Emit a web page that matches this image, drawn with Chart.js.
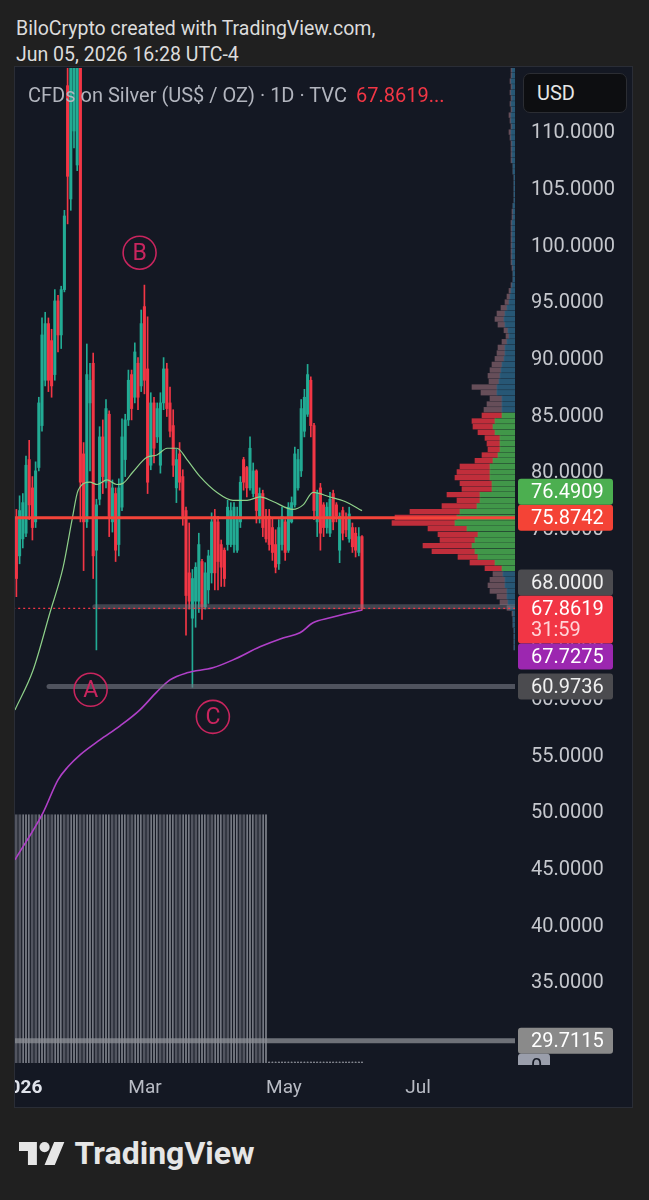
<!DOCTYPE html>
<html>
<head>
<meta charset="utf-8">
<script src="https://cdn.jsdelivr.net/npm/chart.js@4.4.0/dist/chart.umd.min.js"></script>
<style>
html,body{margin:0;padding:0;width:649px;height:1200px;background:#202020;overflow:hidden;font-family:Roboto,"Noto Sans",sans-serif;}
.hdr{position:absolute;left:16px;color:#dcdcdc;font-size:19.5px;line-height:19.5px;white-space:nowrap;}
#h1{top:18.5px;} #h2{top:44.5px;}
#panel{position:absolute;left:15px;top:67px;width:617px;height:1040px;background:#141823;outline:1px solid #2a2d36;}
#cv{position:absolute;left:0;top:1px;}
#legend{position:absolute;left:13px;top:18px;font-size:20px;line-height:20px;color:#b2b5be;white-space:nowrap;pointer-events:none;}
#legend span{color:#f23645;margin-left:9px;}
#usd{position:absolute;left:508px;top:6px;width:104px;height:40px;box-sizing:border-box;background:#0d0e11;border:1px solid #2b2d33;border-radius:7px;color:#e6e6e6;font-size:20px;line-height:38px;padding-left:13px;}
#footer{position:absolute;left:18.6px;top:1137px;height:40px;}
#footer svg{position:absolute;left:0;top:5px;}
#footer .t{position:absolute;left:56px;top:0;font-size:32px;line-height:32px;font-weight:700;color:#e6e6e6;white-space:nowrap;}
</style>
</head>
<body>
<div class="hdr" id="h1">BiloCrypto created with TradingView.com,</div>
<div class="hdr" id="h2">Jun 05, 2026 16:28 UTC-4</div>
<div id="panel">
  <canvas id="cv" width="617" height="1039"></canvas>
  <div id="legend">CFDs on Silver (US$ / OZ) · 1D · TVC<span>67.8619...</span></div>
  <div id="usd">USD</div>
</div>
<div id="footer">
  <svg width="46" height="23" viewBox="0 4 36 18"><path fill="#e6e6e6" d="M14 22H7V11H0V4h14v18zM28 22h-8l7.5-18h8L28 22z"/><circle fill="#e6e6e6" cx="20" cy="8" r="4"/></svg>
  <div class="t">TradingView</div>
</div>
<script>
// ---------- DATA ----------
// Daily candles (bar 1 .. 109)
const candleOpen = [75.9,72.5,74.0,74.5,81.0,78.5,75.5,80.3,84.0,88.0, 93.0,91.5,88.5,95.0,92.0,96.0,114.0,104.0,110.0,107.0, 117.0,81.5,75.5,86.0,89.5,73.0,77.5,83.0,79.0,85.0, 75.5,78.0,73.5,76.8,81.0,84.5,88.5,86.5,89.5,87.5, 94.5,89.0,80.5,86.0,83.0,80.5,86.0,89.0,86.0,84.0, 78.5,81.5,79.5,76.5,71.0,67.0,68.5,68.5,72.0,68.0, 69.5,71.0,76.0,75.5,73.5,73.0,73.5,73.5,73.5,73.0, 75.5,81.0,80.3,78.5,78.0,80.0,76.0,78.0,76.0,76.0, 75.0,73.5,71.8,73.5,75.5,73.0,75.5,77.0,78.5,80.0, 83.5,85.0,88.0,84.0,75.5,78.5,77.0,75.0,74.5,78.0, 77.0,73.0,76.5,75.8,74.0,75.0,74.5,72.8,74.2];
const candleHigh = [76.6,77.8,78.0,81.3,82.7,79.5,80.8,86.5,93.5,94.0, 93.5,92.5,96.0,95.5,96.3,103.0,118.0,121.0,121.0,121.0, 121.0,82.5,91.2,89.5,90.4,77.5,83.9,84.5,86.3,85.3, 79.2,78.5,79.3,84.6,85.0,88.9,88.9,91.3,90.0,94.2, 96.4,93.6,86.9,86.5,86.0,86.9,90.0,89.5,87.4,85.4, 81.9,82.5,80.1,76.8,75.4,71.3,71.9,74.5,72.2,71.9, 73.0,76.3,76.6,76.0,73.9,73.2,77.4,77.2,77.2,76.8, 79.5,81.2,80.4,83.0,80.7,80.1,78.5,78.3,76.6,76.6, 75.9,74.8,75.7,76.8,75.7,77.2,77.7,82.1,81.9,86.3, 87.2,89.4,88.3,84.2,78.3,78.9,77.2,77.2,78.1,78.3, 77.2,76.3,76.8,76.3,76.8,75.4,75.0,75.0,74.3];
const candleLow = [68.9,71.8,73.2,74.2,75.7,73.9,75.0,80.0,83.5,87.5, 87.0,86.5,88.0,90.5,90.8,95.8,101.8,103.0,108.5,106.5, 75.5,71.2,75.0,80.0,70.5,64.2,77.0,78.0,78.5,74.2, 74.6,72.0,72.5,76.5,79.5,84.0,84.5,86.0,85.4,87.0, 86.8,78.0,80.1,80.7,82.5,79.8,85.4,84.8,83.0,79.5, 77.2,78.3,75.2,65.5,67.8,60.9,66.2,67.5,66.9,67.8, 68.3,70.1,69.5,69.5,69.8,69.8,73.0,73.3,72.8,72.8, 75.0,78.3,77.7,78.3,77.7,75.4,75.4,74.2,73.7,73.0, 72.1,71.0,71.3,73.0,72.1,72.8,75.4,76.8,78.3,79.5, 83.0,84.8,83.0,75.7,74.2,73.0,74.2,74.5,74.2,74.8, 75.5,71.9,73.9,74.2,73.7,72.8,72.4,72.5,67.7];
const candleClose = [70.5,76.5,77.2,80.5,77.0,75.0,80.0,86.0,92.0,93.0, 88.0,87.5,95.0,92.0,96.0,102.5,106.0,116.0,119.0,118.0, 79.0,75.5,88.5,88.0,72.5,77.0,83.0,79.5,85.5,76.0, 78.5,73.0,78.5,83.0,84.5,88.0,85.5,90.5,86.5,93.0, 88.0,79.0,86.0,82.0,85.5,86.0,89.0,85.5,83.5,80.5, 81.0,79.0,76.0,69.0,68.5,70.5,71.5,73.5,68.0,71.0, 72.5,75.5,71.0,72.0,71.5,70.5,76.8,76.5,76.8,76.0, 79.0,79.0,78.5,82.0,80.0,76.5,78.0,75.0,74.0,73.5, 72.8,71.5,75.0,76.0,72.8,76.8,77.2,81.5,81.0,85.5, 86.5,88.5,84.0,76.5,78.0,74.5,75.0,76.8,77.5,75.5, 76.0,76.0,74.5,74.8,76.2,73.3,73.0,74.2,67.86];

// Bottom histogram (same bar numbering), clipped at the top of its pane
const volume = [25,25,25,25,25,25,25,25,25,25, 25,25,25,25,25,25,25,25,25,25, 25,25,25,25,25,25,25,25,25,25, 25,25,25,25,25,25,25,25,25,25, 25,25,25,25,25,25,25,25,25,25, 25,25,25,25,25,25,25,25,25,25, 25,25,25,25,25,25,25,25,25,25, 25,25,25,25,25,25,25,25,25,0.15, 0.15,0.15,0.15,0.15,0.15,0.15,0.15,0.15,0.15,0.15, 0.15,0.15,0.15,0.15,0.15,0.15,0.15,0.15,0.15,0.15, 0.15,0.15,0.15,0.15,0.15,0.15,0.15,0.15,0.15,0.15];

// Moving averages: [bar, value] points
const maFastBar = [0.56,6.2,11.5,15.6,18.4,20.3,24.0,26.2,29.3,32.4,34.3,37.4,41.8,44.9,48.1,51.2,54.3,58.4,63.7,68.7,73.1,77.1,81.2,87.4,90.6,93.7,99.0,103.7,109.0];
const maFastVal = [58.9,62.4,67.5,71.5,75.7,78.3,79.0,78.8,79.2,78.8,78.9,79.9,81.2,81.4,82.0,82.0,81.0,79.5,78.1,77.4,77.4,77.7,77.3,76.6,77.0,78.1,77.7,77.3,76.4909];
const maSlowBar = [0.56,9.31,14.0,17.1,20.9,27.1,33.4,39.6,44.9,49.0,54.3,62.4,68.7,77.1,84.3,89.6,93.7,99.0,109.0];
const maSlowVal = [45.68,49.82,52.73,53.88,54.94,56.26,57.5,58.91,60.5,61.56,62.18,62.62,63.32,64.47,65.26,65.71,66.59,67.03,67.7275];

// Volume profile rows
const vpRowPrice = [115.4,114.9,114.4,113.9,113.4,112.9,112.4,111.9,111.4,110.9, 110.4,109.9,109.4,108.9,108.4,107.9,107.4,106.9,106.4,105.9, 105.4,104.9,104.4,103.9,103.4,102.9,102.4,101.9,101.4,100.9, 100.4,99.9,99.4,98.9,98.4,97.9,97.4,96.9,96.4,95.9, 95.4,94.9,94.4,93.9,93.4,92.9,92.4,91.9,91.4,90.9, 90.4,89.9,89.4,88.9,88.4,87.9,87.4,86.9,86.4,85.9, 85.4,84.9,84.4,83.9,83.4,82.9,82.4,81.9,81.4,80.9, 80.4,79.9,79.4,78.9,78.4,77.9,77.4,76.9,76.4,75.9, 75.4,74.9,74.4,73.9,73.4,72.9,72.4,71.9,71.4,70.9, 70.4,69.9,69.4,68.9,68.4,67.9,67.4,66.9,66.4,65.9, 65.4,64.9,64.4];
const vpDown = [1,1,1,1,1,1,1,1,2,1, 1,2,1,1,1,1,1,0,0,0, 0,0,0,0,0,1,1,1,1,1, 1,1,1,1,1,1,0,0,1,2, 3,4,6,8,9,7,4,3,5,7, 8,9,10,11,12,10,25,16,12,15, 18,20,23,20,17,15,13,12,16,18, 30,33,35,32,30,33,23,35,50,62, 63,39,40,35,49,43,20,25,17,10, 15,17,17,10,8,3,1,0,0,0, 0,0,0];
const vpUp = [3,3,4,3,4,3,4,3,4,4, 3,4,4,3,3,3,3,2,2,1, 1,1,1,1,2,2,2,3,3,3, 3,3,3,3,3,2,2,2,3,4, 5,6,8,10,11,10,7,6,8,10, 10,11,13,14,15,16,18,18,13,13, 13,13,20,22,20,15,15,15,17,22, 25,25,25,23,23,35,35,38,55,58, 60,48,37,40,43,40,37,20,13,12, 10,10,8,8,7,5,2,2,2,1, 1,1,1];
const valueAreaHigh = 85.1, valueAreaLow = 71.2;

// Horizontal rays
const levelValue = [75.8742, 67.8619, 68.0, 60.9736, 29.7115];
const levelStartBar = [0, 0, 25.5, 11.2, 0];

// Price-scale tags, in placement priority order
const tagValue = [67.8619, 75.8742, 29.7115, 68.0, 76.4909, 67.7275, 60.9736];
const tagSub = ['31:59', '', '', '', '', '', ''];

// Axis ticks
const yTickValues = [110,105,100,95,90,85,80,75,70,65,60,55,50,45,40,35,30];
const xTickPos = [2.28, 41.2, 84.6, 126.5];
const xTickLabels = ['2026', 'Mar', 'May', 'Jul'];

// Wave labels
const waveLabel = ['A', 'B', 'C'];
const waveBar = [24.2, 39.5, 62.4];
const waveValue = [60.68, 99.26, 58.29];

// ---------- STYLE ----------
const X_MIN = 0.5625, X_MAX = 156.81, Y_MIN = 27.74, Y_MAX = 115.56;
const UP = '#22ab94', DOWN = '#f23645';
const levelStyle = [
  {c:'#f5443a', w:3, dash:[], cap:'butt'},
  {c:'#f23645', w:1.3, dash:[2,3], cap:'butt'},
  {c:'rgba(120,123,134,0.45)', w:5, dash:[], cap:'round'},
  {c:'rgba(120,123,134,0.6)', w:5, dash:[], cap:'round'},
  {c:'rgba(140,143,150,0.75)', w:5, dash:[], cap:'round'}
];
const tagStyle = [
  {bg:'#f23645', fg:'#ffffff', sub:'#ffd3d7'}, {bg:'#f44336', fg:'#ffffff'}, {bg:'#8a8a8a', fg:'#ffffff'},
  {bg:'#4b4b4f', fg:'#f0f0f0'}, {bg:'#4caf50', fg:'#ffffff'},
  {bg:'#9c27b0', fg:'#ffffff'}, {bg:'#4b4b4f', fg:'#f0f0f0'}
];

// ---------- BUILD ----------
const bars = candleOpen.map((_, k) => k + 1);
const candleColor = bars.map((_, k) => candleClose[k] >= candleOpen[k] ? UP : DOWN);
const datasets = [];
levelValue.forEach((v, k) => {
  const s = levelStyle[k];
  datasets.push({type:'line', data:[{x:levelStartBar[k], y:v},{x:X_MAX, y:v}], borderColor:s.c, borderWidth:s.w,
    borderDash:s.dash, borderCapStyle:s.cap, pointRadius:0, xAxisID:'x', yAxisID:'y', clip:0});
});
datasets.push({type:'line', data:maFastBar.map((b,k)=>({x:b,y:maFastVal[k]})), borderColor:'#8fd18a', borderWidth:1.2,
  pointRadius:0, cubicInterpolationMode:'monotone', xAxisID:'x', yAxisID:'y', clip:0});
datasets.push({type:'line', data:maSlowBar.map((b,k)=>({x:b,y:maSlowVal[k]})), borderColor:'#b040c8', borderWidth:1.6,
  pointRadius:0, cubicInterpolationMode:'monotone', xAxisID:'x', yAxisID:'y', clip:0});
datasets.push({type:'bar', data:bars.map((b,k)=>({x:b, y:[candleOpen[k], candleClose[k]]})), backgroundColor:candleColor,
  barThickness:2.4, grouped:false, xAxisID:'x', yAxisID:'y', clip:0});
datasets.push({type:'bar', data:bars.map((b,k)=>({x:b, y:[candleLow[k], candleHigh[k]]})), backgroundColor:candleColor,
  barThickness:1, grouped:false, xAxisID:'x', yAxisID:'y', clip:0});
const inVA = vpRowPrice.map(p => p <= valueAreaHigh && p >= valueAreaLow);
datasets.push({type:'bar', indexAxis:'y', data:vpRowPrice.map((p,k)=>({y:p, x:[0, vpUp[k]]})),
  backgroundColor:inVA.map(v => v ? 'rgba(72,168,78,0.88)' : 'rgba(44,104,138,0.8)'),
  barThickness:4.7, grouped:false, xAxisID:'xvp', yAxisID:'y', clip:0});
datasets.push({type:'bar', indexAxis:'y', data:vpRowPrice.map((p,k)=>({y:p, x:[vpUp[k], vpUp[k]+vpDown[k]]})),
  backgroundColor:inVA.map(v => v ? 'rgba(222,50,64,0.85)' : 'rgba(130,96,108,0.75)'),
  barThickness:4.7, grouped:false, xAxisID:'xvp', yAxisID:'y', clip:0});
datasets.push({type:'bar', data:bars.map((b,k)=>({x:b, y:volume[k]})),
  backgroundColor:volume.map(v => v < 1 ? 'rgba(150,153,162,0.9)' : 'rgba(0,0,0,0)'),
  borderColor:'rgba(150,153,162,0.9)', borderWidth:{left:0.7, right:0.7, top:0, bottom:0}, borderSkipped:false,
  barThickness:1.6, grouped:false, xAxisID:'x', yAxisID:'yvol', clip:0});

const overlay = {
  id:'overlay',
  afterDatasetsDraw(chart) {
    const {ctx, chartArea:a, scales:{x, y}} = chart;
    ctx.save();
    ctx.beginPath(); ctx.rect(a.left, a.top, a.right - a.left, a.bottom - a.top); ctx.clip();
    waveLabel.forEach((t, k) => {
      const px = x.getPixelForValue(waveBar[k]), py = y.getPixelForValue(waveValue[k]);
      ctx.beginPath(); ctx.arc(px, py, 16.5, 0, Math.PI * 2);
      ctx.strokeStyle = '#c8255e'; ctx.lineWidth = 1.6; ctx.stroke();
      ctx.fillStyle = '#c8255e'; ctx.font = '23px Roboto'; ctx.textAlign = 'center'; ctx.textBaseline = 'middle';
      ctx.fillText(t, px, py + 1.5);
    });
    ctx.restore();
  },
  afterDraw(chart) {
    const {ctx, chartArea:a, scales:{y}} = chart;
    const left = a.right + 3, w = 95;
    const placed = [];
    const items = tagValue.map((v, k) => ({v, txt:v.toFixed(4), sub:tagSub[k], st:tagStyle[k], w}));
    items.push({v:Y_MIN, txt:'0', sub:'', st:{bg:'#9a9eab', fg:'#131722'}, w:32});
    items.forEach(it => {
      const h = it.sub ? 48 : 26;
      let top = y.getPixelForValue(it.v) - 13;
      for (let iter = 0; iter < 30; iter++) {
        const hit = placed.find(p => top < p.top + p.h && top + h > p.top);
        if (!hit) break;
        top = it.v > hit.v ? hit.top - h : hit.top + hit.h;
      }
      it.top = top; it.h = h; placed.push(it);
    });
    ctx.save();
    ctx.beginPath(); ctx.rect(a.right, 0, chart.width - a.right, a.bottom + 2); ctx.clip();
    placed.forEach(it => {
      ctx.fillStyle = it.st.bg;
      ctx.beginPath(); ctx.roundRect(left, it.top, it.w, it.h, 3); ctx.fill();
      ctx.fillStyle = it.st.fg; ctx.font = '20px Roboto'; ctx.textAlign = 'left'; ctx.textBaseline = 'middle';
      ctx.fillText(it.txt, left + 13, it.top + 14.5);
      if (it.sub) { ctx.fillStyle = it.st.sub; ctx.fillText(it.sub, left + 13, it.top + 35.5); }
    });
    ctx.restore();
  }
};

new Chart(document.getElementById('cv'), {
  type:'bar',
  data:{datasets},
  options:{
    responsive:false, animation:false, maintainAspectRatio:false,
    layout:{padding:0, autoPadding:false},
    plugins:{legend:{display:false}, tooltip:{enabled:false}},
    scales:{
      x:{type:'linear', position:'bottom', offset:false, min:X_MIN, max:X_MAX, grid:{display:false, drawTicks:false, offset:false}, border:{display:false},
        afterBuildTicks:s => { s.ticks = xTickPos.map(v => ({value:v})); },
        afterFit:s => { s.height = 44; s.paddingLeft = 0; s.paddingRight = 0; },
        ticks:{autoSkip:false, maxRotation:0, padding:14,
          color:c => c.index === 0 ? '#e0e3eb' : '#b8bbc4',
          font:c => ({family:'Roboto', size:19, weight: c.index === 0 ? 'bold' : 'normal'}),
          callback:(v, i) => xTickLabels[i]}},
      y:{type:'linear', position:'right', offset:false, min:Y_MIN, max:Y_MAX, grid:{display:false, drawTicks:false, offset:false}, border:{display:false},
        afterBuildTicks:s => { s.ticks = yTickValues.map(v => ({value:v})); },
        afterFit:s => { s.width = 117; s.paddingTop = 0; s.paddingBottom = 0; },
        ticks:{padding:16, labelOffset:2.5, color:'#c5c7cd', font:{family:'Roboto', size:20}, callback:v => Number(v).toFixed(4)}},
      xvp:{type:'linear', position:'bottom', offset:false, min:0, max:500, reverse:true, display:false, ticks:{display:false}, grid:{offset:false}},
      yvol:{type:'linear', position:'left', offset:false, min:0, max:100, display:false, ticks:{display:false}, grid:{offset:false}}
    }
  },
  plugins:[overlay]
});
</script>
</body>
</html>
